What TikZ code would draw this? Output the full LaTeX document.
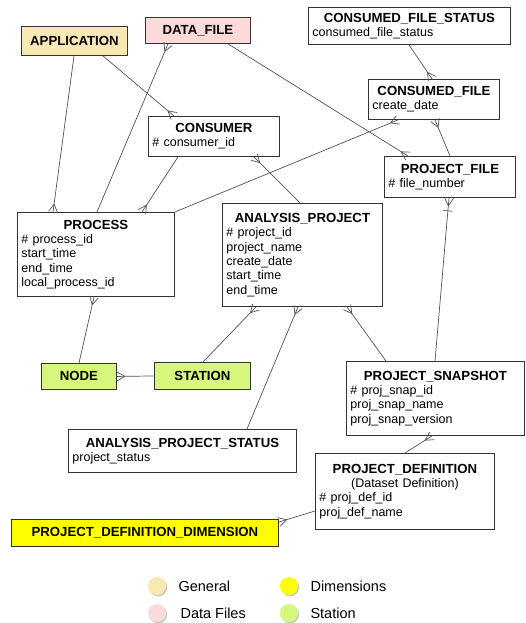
\documentclass[tikz,border=0pt]{standalone}
\usepackage{fontspec}
\setmainfont{Liberation Sans}
\usetikzlibrary{decorations.markings,shadows}

\definecolor{general}{HTML}{F8E9B4}
\definecolor{datafile}{HTML}{FCDADA}
\definecolor{station}{HTML}{D6F77E}
\definecolor{dimension}{HTML}{FFFF00}
\definecolor{edge}{HTML}{333333}

\tikzset{
  ent/.style={draw=edge, line width=0.9pt, fill=white, anchor=north west, inner xsep=4pt, inner ysep=2pt, align=left, font=\fontsize{12.5}{14.3}\selectfont},
  tag/.style={draw=edge, line width=0.9pt, anchor=north west, inner sep=0pt, font=\fontsize{13.2}{15}\selectfont\bfseries},
  rel/.style={draw=edge!85, line width=0.7pt},
  crow/.style={rel, postaction={decorate, decoration={markings, mark=at position 1 with {\draw[rel] (-8pt,0) -- (0,4.5pt) (-8pt,0) -- (0,-4.5pt);}}}},
  crowbar/.style={crow, postaction={decorate, decoration={markings, mark=at position 1 with {\draw[rel] (-13pt,-4.5pt) -- (-13pt,4.5pt);}}}},
  dot/.style={circle, minimum size=18pt, inner sep=0pt, drop shadow={shadow xshift=1.2pt, shadow yshift=-1.5pt, opacity=0.35, fill=black!60}},
  key/.style={anchor=west, font=\fontsize{14.5}{16}\selectfont}
}
\newcommand{\etitle}[1]{\noindent\makebox[\hsize]{\fontsize{13.2}{14.3}\selectfont\bfseries #1}}

\begin{document}
\begin{tikzpicture}[x=1pt,y=-1pt]
\path[use as bounding box, fill=white] (0,0) rectangle (526,623);

% entities
\node[tag, fill=general, minimum width=106pt, minimum height=29pt] (app) at (21,26) {APPLICATION};
\node[tag, fill=datafile, minimum width=105pt, minimum height=26pt] (datafile) at (145,17) {DATA\_FILE};
\node[ent, text width=123pt, minimum height=40pt] (consumer) at (148,116) {\etitle{CONSUMER}\\\# consumer\_id};
\node[ent, text width=194pt, minimum height=37pt] (cfs) at (308,7) {\etitle{CONSUMED\_FILE\_STATUS}\\consumed\_file\_status};
\node[ent, text width=123pt, minimum height=40pt] (cfile) at (368,79) {\etitle{CONSUMED\_FILE}\\create\_date};
\node[ent, text width=123pt, minimum height=41pt] (pfile) at (384,156) {\etitle{PROJECT\_FILE}\\\# file\_number};
\node[ent, text width=149pt, minimum height=84pt] (process) at (17,212) {\etitle{PROCESS}\\\# process\_id\\start\_time\\end\_time\\local\_process\_id};
\node[ent, text width=152pt, minimum height=103pt] (ap) at (222,203) {\etitle{ANALYSIS\_PROJECT}\\\# project\_id\\project\_name\\create\_date\\start\_time\\end\_time};
\node[tag, fill=station, minimum width=75pt, minimum height=26pt] (node) at (41,363) {NODE};
\node[tag, fill=station, minimum width=96pt, minimum height=27pt] (station) at (154,362) {STATION};
\node[ent, text width=170pt, minimum height=74pt] (psnap) at (346,361) {\etitle{PROJECT\_SNAPSHOT}\\\# proj\_snap\_id\\proj\_snap\_name\\proj\_snap\_version};
\node[ent, text width=220pt, minimum height=43pt] (aps) at (68,429) {\etitle{ANALYSIS\_PROJECT\_STATUS}\\project\_status};
\node[ent, text width=171pt, minimum height=76pt] (pd) at (315,453) {\etitle{PROJECT\_DEFINITION}\\\makebox[\hsize]{(Dataset Definition)}\\\# proj\_def\_id\\proj\_def\_name};
\node[tag, fill=dimension, minimum width=267pt, minimum height=27pt] (pdd) at (11,519) {PROJECT\_DEFINITION\_DIMENSION};

% relations, crow's foot at the many side
\draw[crow] ([xshift=53pt]app.south west) -- ([xshift=36pt]process.north west);
\draw[crow] ([xshift=82pt]app.south west) -- ([xshift=26pt]consumer.north west);
\draw[crow] ([xshift=80pt]process.north west) -- ([xshift=23pt]datafile.south west);
\draw[crow] ([xshift=83pt]datafile.south west) -- ([xshift=24pt]pfile.north west);
\draw[crow] ([xshift=30pt]consumer.south west) -- ([xshift=125pt]process.north west);
\draw[crow] ([xshift=78pt]ap.north west) -- ([xshift=106pt]consumer.south west);
\draw[crow] (process.north east) -- ([xshift=30pt]cfile.south west);
\draw[crow] ([xshift=101pt]cfs.south west) -- ([xshift=64pt]cfile.north west);
\draw[crow] ([xshift=66pt]pfile.north west) -- ([xshift=67pt]cfile.south west);
\draw[crowbar] ([xshift=89pt]psnap.north west) -- ([xshift=65pt]pfile.south west);
\draw[crow] ([xshift=49pt]station.north west) -- ([xshift=34pt]ap.south west);
\draw[crow] ([xshift=179pt]aps.north west) -- ([xshift=76pt]ap.south west);
\draw[crow] ([xshift=40pt]psnap.north west) -- ([xshift=125pt]ap.south west);
\draw[crow] ([xshift=38pt]node.north west) -- ([xshift=77pt]process.south west);
\draw[crow] (station.west) -- (node.east);
\draw[crow] ([xshift=90pt]pd.north west) -- ([xshift=86pt]psnap.south west);
\draw[crow] ([yshift=-58pt]pd.north west) -- ([yshift=-3pt]pdd.north east);

% legend
\node[dot, fill=general] (lgen) at (157,586) {};
\node[dot, fill=datafile] (ldata) at (157,613) {};
\node[dot, fill=dimension] (ldim) at (289,586) {};
\node[dot, fill=station] (lsta) at (289,613) {};
\node[key] at (175,586) {General};
\node[key] at (177,613) {Data Files};
\node[key] at (307,586) {Dimensions};
\node[key] at (307,613) {Station};

\end{tikzpicture}
\end{document}
